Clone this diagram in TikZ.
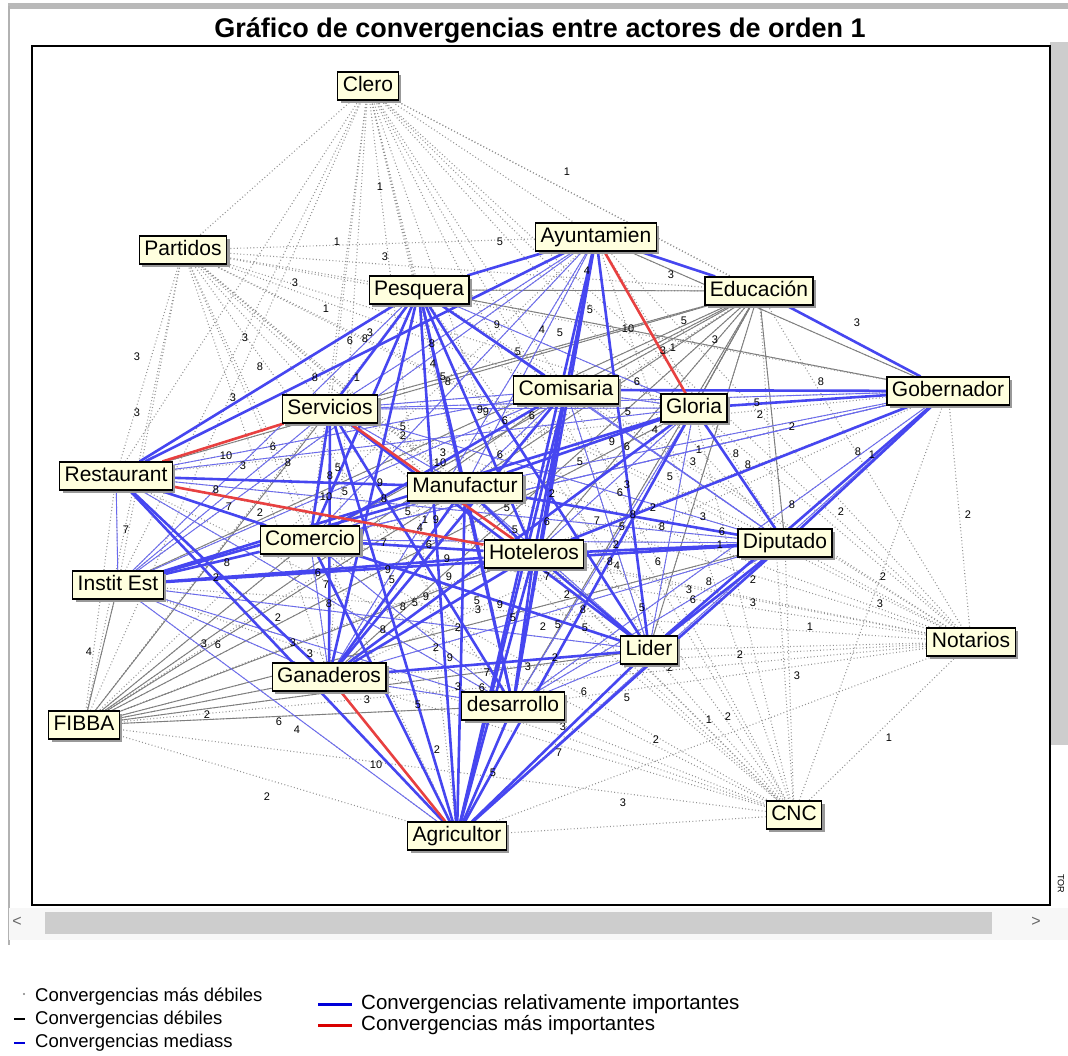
\documentclass[tikz,border=0pt]{standalone}
\usepackage{fontspec}
\setmainfont{Liberation Sans}
\usetikzlibrary{shadows}
\pgfdeclarelayer{bg}
\pgfdeclarelayer{edges}
\pgfsetlayers{bg,edges,main}
\definecolor{cream}{RGB}{255,255,222}
\definecolor{strongblue}{RGB}{70,70,240}
\definecolor{medblue}{RGB}{105,105,240}
\definecolor{weakgray}{RGB}{125,125,125}
\definecolor{redline}{RGB}{232,64,64}
\definecolor{barg}{RGB}{205,205,205}
\begin{document}
\begin{tikzpicture}[x=1pt,y=-1pt,
  actor/.style={draw=black, line width=1.1pt, fill=cream, font=\fontsize{21}{24}\selectfont,
    inner xsep=5pt, inner ysep=4pt, text height=15.5pt, text depth=4.5pt,
    drop shadow={shadow xshift=3pt, shadow yshift=-3pt, fill=gray!80, opacity=1}},
  num/.style={font=\fontsize{11}{12}\selectfont, inner sep=0.5pt},
  convWW/.style={draw=gray!85, line width=1.1pt, dash pattern=on 0.9pt off 2.4pt},
  convW/.style={draw=weakgray, line width=0.9pt},
  convM/.style={draw=medblue, line width=0.9pt},
  convS/.style={draw=strongblue, line width=2.6pt},
  convT/.style={draw=redline, line width=2.6pt},
  legtxt/.style={anchor=west, inner sep=0pt, font=\fontsize{18.5}{20}\selectfont},
  legtxtb/.style={anchor=west, inner sep=0pt, font=\fontsize{20.5}{22}\selectfont}]
\useasboundingbox (0,0) rectangle (1068,1055);

% ---------- window frame ----------
\begin{pgfonlayer}{bg}
  \fill[white] (0,0) rectangle (1068,1055);
  \fill[gray!55] (8,3) rectangle (1068,9);
  \draw[gray!60, line width=1.5pt] (9,6) -- (9,945);
  \fill[barg] (1050,42) rectangle (1068,745);
  \fill[gray!6] (9,908) rectangle (1068,940);
  \fill[barg] (45,912) rectangle (992,934);
  \draw[black, line width=1.2pt] (32,46) rectangle (1050,905);
\end{pgfonlayer}
\node[text=gray!80!black, font=\fontsize{16}{18}\selectfont] (larr) at (17,922) {<};
\node[text=gray!80!black, font=\fontsize{16}{18}\selectfont] (rarr) at (1036,922) {>};
\node[rotate=-90, font=\fontsize{9}{10}\selectfont, inner sep=0pt] (tor) at (1061,884) {TOR};

% ---------- title ----------
\node (title) at (540,30) {\fontsize{27}{30}\selectfont\bfseries Gráfico de convergencias entre actores de orden 1};

% ---------- edge numbers ----------
\foreach \x/\y/\t [count=\k] in {
567/172/1, 380/187/1, 337/242/1, 385/257/3, 500/242/5, 295/283/3, 326/309/1, 671/275/3,
857/323/3, 587/271/4, 590/310/5, 497/325/9, 542/330/4, 560/333/5, 628/329/10, 684/321/5,
715/340/3, 663/351/3, 673/348/1, 518/352/5, 432/344/8, 433/364/4, 443/377/5, 448/382/8,
637/382/6, 821/382/8, 757/403/5, 760/415/2, 792/427/2, 655/430/4, 480/410/9, 486/412/9,
505/421/6, 532/416/6, 628/412/5, 612/442/9, 627/447/6, 699/450/1, 693/462/3, 736/454/8,
748/465/8, 858/452/8, 872/455/1, 841/512/2, 968/515/2, 792/505/8, 245/338/3, 350/341/6,
365/339/8, 370/333/3, 137/357/3, 260/367/8, 315/378/8, 357/378/1, 233/398/3, 137/413/3,
403/427/5, 403/436/2, 226/456/10, 273/447/6, 288/463/8, 243/466/3, 330/476/8, 338/468/5,
326/497/10, 345/492/5, 380/483/9, 384/499/8, 216/490/8, 229/507/7, 260/513/2, 126/530/7,
384/543/7, 408/512/5, 425/520/1, 436/520/9, 420/528/4, 429/545/6, 227/563/8, 216/578/2,
318/573/6, 326/585/7, 388/570/9, 392/580/5, 329/604/8, 278/618/2, 426/597/9, 415/603/5,
403/607/8, 383/630/8, 204/644/3, 218/645/6, 293/643/3, 310/654/3, 89/652/4, 436/648/2,
367/700/3, 418/705/5, 207/715/2, 279/722/6, 297/730/4, 443/453/3, 440/463/10, 500/455/6,
580/462/5, 670/477/5, 627/485/3, 620/493/6, 507/508/5, 552/494/2, 653/508/2, 633/515/8,
703/517/3, 597/521/7, 547/522/6, 622/527/5, 662/527/8, 515/530/5, 722/532/6, 616/545/2,
720/545/1, 447/559/9, 610/562/8, 617/566/4, 658/562/6, 547/577/7, 449/577/9, 753/580/2,
709/582/8, 689/590/3, 693/600/6, 567/595/2, 477/601/5, 478/610/3, 500/605/9, 513/618/5,
583/610/8, 642/608/5, 753/603/3, 543/627/2, 558/625/5, 585/628/5, 458/628/2, 810/627/1,
450/658/9, 555/658/2, 528/667/3, 740/655/2, 670/668/2, 797/676/3, 487/673/7, 458/687/3,
482/688/6, 584/692/6, 627/698/5, 709/720/1, 728/717/2, 563/727/3, 656/740/2, 889/738/1,
437/750/2, 559/753/7, 376/765/10, 493/773/5, 267/797/2, 623/803/3, 883/577/2, 880/604/3}
  \node[num] (n\k) at (\x,\y) {\t};

% ---------- actors ----------
\node[actor] (cl) at (368,86) {Clero};
\node[actor] (pa) at (183,250) {Partidos};
\node[actor] (ay) at (596,237) {Ayuntamien};
\node[actor] (pe) at (419,290) {Pesquera};
\node[actor] (ed) at (759,291) {Educación};
\node[actor] (co) at (566,390) {Comisaria};
\node[actor] (gl) at (694,408) {Gloria};
\node[actor] (go) at (948,391) {Gobernador};
\node[actor] (se) at (330,409) {Servicios};
\node[actor] (re) at (116,476) {Restaurant};
\node[actor] (ma) at (465,487) {Manufactur};
\node[actor] (cm) at (310,540) {Comercio};
\node[actor] (ho) at (534,554) {Hoteleros};
\node[actor] (di) at (785,543) {Diputado};
\node[actor] (ie) at (118,585) {Instit Est};
\node[actor] (li) at (649,650) {Lider};
\node[actor] (no) at (971,642) {Notarios};
\node[actor] (ga) at (329,677) {Ganaderos};
\node[actor] (de) at (513,706) {desarrollo};
\node[actor] (fi) at (84,725) {FIBBA};
\node[actor] (cn) at (794,815) {CNC};
\node[actor] (ag) at (457,836) {Agricultor};

% ---------- connectors ----------
\begin{pgfonlayer}{edges}
  \foreach \a [count=\i] in {cl,pa,ay,pe,ed,co,gl,go,se,re,ma,cm,ho,di,ie,li,no,ga,de,fi,cn,ag}{
    \foreach \b [count=\j] in {cl,pa,ay,pe,ed,co,gl,go,se,re,ma,cm,ho,di,ie,li,no,ga,de,fi,cn,ag}{
      \ifnum\j>\i \draw[convWW] (\a) -- (\b);\fi
    }
  }
  \foreach \a/\b in {ed/co, ed/ma, ed/ho, ed/se, ed/gl, ed/li, ed/di, ed/pe, ed/ga, ed/cm,
      ed/ie, ed/re, ed/de, ed/ag, pe/go, fi/ie, fi/cm, fi/ma, fi/ho, fi/ga, fi/de, fi/li,
      fi/se, fi/gl, fi/co, fi/di, ay/go}
    \draw[convW] (\a) -- (\b);
  \foreach \a/\b in {pe/gl, pe/di, pe/ie, ay/se, ay/ma, ay/cm, ay/ga, ay/ie, ay/co, go/ma,
      go/se, go/ag, go/cm, go/ie, go/de, gl/se, gl/co, gl/ho, gl/re, gl/cm, gl/li, gl/de,
      co/ma, co/re, co/se, co/ho, co/li, co/ie, co/di, se/ma, se/ie, se/di, re/li, re/de,
      re/di, re/ie, ma/cm, ma/li, cm/ga, cm/de, cm/di, ie/ga, ie/li, ie/de, ie/ag, li/de,
      ga/de, di/ga, di/de}
    \draw[convM] (\a) -- (\b);
  \foreach \a/\b in {pe/re, pe/ma, pe/cm, pe/ho, pe/ga, pe/ag, pe/de, pe/li, pe/se, pe/co,
      ay/pe, ay/ed, ay/ho, ay/li, ay/re, ay/ag, ay/de, ed/go, go/gl, go/co, go/li, go/di,
      go/ho, gl/di, gl/ag, gl/ma, gl/ie, gl/ga, co/ag, co/de, co/ga, co/cm, se/ga, se/ag,
      se/cm, se/de, se/li, re/ma, re/ag, re/cm, re/ga, ma/ag, ma/ga, ma/ho, ma/de, ma/di,
      ma/ie, cm/ag, cm/ho, cm/ie, cm/li, ho/ag, ho/di, ho/li, ho/ga, ho/ie, ho/de, di/li,
      di/ag, di/ie, li/ag, li/ga, de/ag}
    \draw[convS] (\a) -- (\b);
  \foreach \a/\b in {ay/gl, re/se, re/ho, se/ho, ga/ag}
    \draw[convT] (\a) -- (\b);
\end{pgfonlayer}

% ---------- legend ----------
\fill[gray] (24,994) circle (1.1pt);
\draw[black, line width=1.3pt] (14,1019) -- (25,1019);
\draw[blue!85!black, line width=1.3pt] (14,1043) -- (25,1043);
\node[legtxt] (lg1) at (35,997) {Convergencias más débiles};
\node[legtxt] (lg2) at (35,1020) {Convergencias débiles};
\node[legtxt] (lg3) at (35,1043) {Convergencias mediass};
\draw[blue!85!black, line width=3pt] (318,1004) -- (352,1004);
\draw[red!85!black, line width=3pt] (318,1025) -- (352,1025);
\node[legtxtb] (lg4) at (361,1004) {Convergencias relativamente importantes};
\node[legtxtb] (lg5) at (361,1025) {Convergencias más importantes};
\end{tikzpicture}
\end{document}
